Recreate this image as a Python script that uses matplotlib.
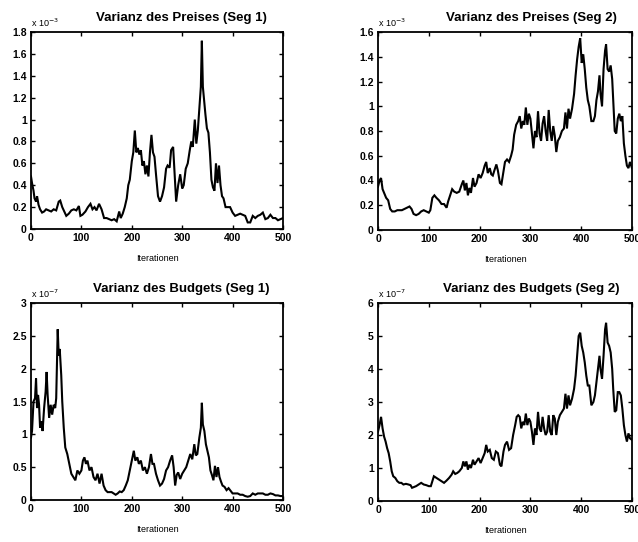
import matplotlib
matplotlib.use("Agg")
import matplotlib.pyplot as plt
from matplotlib.ticker import FuncFormatter, MultipleLocator

plt.rcParams['font.family'] = ['Liberation Sans', 'DejaVu Sans']

# ---- data (values in units of the axis multiplier) ----
titles = ["Varianz des Preises (Seg 1)", "Varianz des Preises (Seg 2)",
          "Varianz des Budgets (Seg 1)", "Varianz des Budgets (Seg 2)"]
exponents = [-3, -3, -7, -7]
xlabel = "Iterationen"

preis1_x = [0, 2, 5, 7, 10, 12, 15, 18, 22, 26, 30, 35, 40, 45, 50, 55, 58, 62, 66, 70, 75, 80, 85, 90, 95, 98,
            102, 108, 113, 118, 122, 126, 130, 135, 140, 145, 150, 155, 160, 165, 170, 175, 178, 182, 186, 190,
            193, 196, 200, 203, 206, 209, 212, 215, 218, 221, 224, 227, 230, 233, 236, 239, 242, 245, 248, 252,
            256, 260, 264, 268, 271, 275, 278, 282, 285, 288, 292, 296, 300, 303, 307, 311, 315, 318, 321, 325,
            328, 331, 334, 337, 339, 341, 343, 346, 349, 352, 355, 358, 361, 364, 367, 370, 373, 376, 379, 382,
            386, 390, 395, 400, 405, 410, 415, 420, 425, 430, 435, 440, 445, 450, 455, 460, 465, 470, 475, 480,
            485, 490, 495, 500]
preis1_y = [0.48, 0.42, 0.35, 0.28, 0.25, 0.30, 0.22, 0.18, 0.15, 0.16, 0.18, 0.17, 0.16, 0.18, 0.17, 0.25, 0.26,
            0.20, 0.16, 0.12, 0.14, 0.17, 0.18, 0.17, 0.21, 0.12, 0.13, 0.16, 0.20, 0.23, 0.18, 0.20, 0.17, 0.23,
            0.18, 0.10, 0.10, 0.09, 0.08, 0.09, 0.07, 0.16, 0.10, 0.14, 0.20, 0.28, 0.40, 0.45, 0.62, 0.70, 0.90,
            0.70, 0.74, 0.68, 0.72, 0.58, 0.62, 0.50, 0.58, 0.48, 0.70, 0.86, 0.70, 0.66, 0.50, 0.30, 0.25, 0.30,
            0.38, 0.55, 0.58, 0.56, 0.72, 0.75, 0.50, 0.25, 0.40, 0.50, 0.37, 0.40, 0.55, 0.60, 0.72, 0.80, 0.75,
            1.00, 0.78, 0.90, 1.10, 1.30, 1.72, 1.30, 1.20, 1.05, 0.92, 0.88, 0.70, 0.45, 0.38, 0.35, 0.60, 0.42,
            0.58, 0.40, 0.30, 0.28, 0.20, 0.20, 0.20, 0.15, 0.12, 0.13, 0.14, 0.13, 0.12, 0.06, 0.06, 0.12, 0.10,
            0.12, 0.13, 0.15, 0.09, 0.10, 0.13, 0.10, 0.10, 0.08, 0.09, 0.10]

preis2_x = [0, 3, 6, 9, 12, 16, 20, 24, 28, 33, 38, 42, 47, 52, 57, 62, 66, 70, 75, 80, 85, 90, 95, 100, 103, 107,
            111, 115, 120, 125, 130, 135, 138, 142, 146, 150, 155, 160, 165, 168, 171, 174, 177, 180, 183, 187,
            190, 194, 198, 202, 206, 210, 213, 216, 220, 223, 226, 229, 233, 236, 240, 243, 247, 250, 254, 258,
            262, 265, 268, 272, 276, 279, 282, 285, 288, 291, 294, 297, 300, 303, 306, 309, 312, 315, 318, 321,
            324, 327, 330, 333, 336, 339, 342, 345, 348, 351, 354, 358, 362, 366, 369, 372, 375, 378, 382, 386,
            389, 392, 395, 398, 401, 404, 407, 410, 413, 416, 420, 424, 427, 430, 433, 436, 438, 441, 444, 447,
            449, 452, 455, 458, 461, 463, 466, 469, 472, 475, 478, 481, 484, 487, 490, 493, 496, 500]
preis2_y = [0.35, 0.40, 0.42, 0.33, 0.30, 0.26, 0.24, 0.17, 0.15, 0.15, 0.16, 0.16, 0.16, 0.17, 0.18, 0.19, 0.17,
            0.13, 0.12, 0.13, 0.15, 0.16, 0.15, 0.14, 0.16, 0.26, 0.28, 0.26, 0.24, 0.21, 0.21, 0.18, 0.23, 0.28,
            0.33, 0.31, 0.30, 0.31, 0.37, 0.40, 0.32, 0.38, 0.28, 0.34, 0.30, 0.42, 0.35, 0.38, 0.45, 0.42, 0.46,
            0.52, 0.55, 0.46, 0.50, 0.45, 0.44, 0.48, 0.53, 0.48, 0.38, 0.37, 0.47, 0.55, 0.57, 0.55, 0.60, 0.65,
            0.77, 0.85, 0.88, 0.92, 0.82, 0.88, 0.85, 0.99, 0.85, 0.94, 0.90, 0.78, 0.66, 0.80, 0.75, 0.96, 0.78,
            0.72, 0.86, 0.92, 0.80, 0.72, 0.97, 0.80, 0.72, 0.84, 0.76, 0.63, 0.72, 0.75, 0.80, 0.82, 0.95, 0.82,
            0.98, 0.90, 0.98, 1.10, 1.25, 1.38, 1.48, 1.55, 1.35, 1.42, 1.30, 1.15, 1.05, 1.00, 0.88, 0.88, 0.92,
            1.05, 1.12, 1.25, 1.10, 1.00, 1.30, 1.45, 1.50, 1.30, 1.28, 1.33, 1.22, 1.05, 0.80, 0.78, 0.90, 0.94,
            0.88, 0.92, 0.70, 0.60, 0.52, 0.50, 0.55, 0.50]

budget1_x = [0, 2, 5, 8, 10, 12, 14, 16, 18, 21, 23, 26, 29, 31, 33, 36, 39, 42, 45, 48, 50, 53, 55, 57, 60, 62,
             65, 68, 72, 76, 80, 84, 88, 92, 96, 100, 103, 106, 109, 112, 116, 120, 124, 128, 132, 136, 140, 144,
             148, 152, 156, 160, 164, 168, 172, 176, 180, 184, 188, 192, 196, 200, 204, 207, 211, 214, 218, 222,
             226, 230, 234, 238, 241, 244, 248, 252, 256, 260, 264, 268, 272, 276, 280, 283, 286, 289, 292, 296,
             300, 304, 308, 312, 316, 320, 324, 327, 330, 334, 337, 339, 341, 344, 347, 350, 353, 356, 359, 362,
             365, 368, 371, 374, 377, 380, 384, 388, 392, 396, 400, 405, 410, 415, 420, 425, 430, 435, 440, 445,
             450, 455, 460, 465, 470, 475, 480, 485, 490, 495, 500]
budget1_y = [0.95, 1.05, 1.50, 1.55, 1.85, 1.40, 1.60, 1.45, 1.10, 1.20, 1.05, 1.40, 1.65, 1.95, 1.60, 1.25, 1.45,
             1.30, 1.45, 1.40, 1.55, 2.60, 2.20, 2.30, 1.90, 1.50, 1.10, 0.80, 0.70, 0.55, 0.40, 0.35, 0.30, 0.45,
             0.40, 0.45, 0.60, 0.65, 0.55, 0.60, 0.45, 0.50, 0.35, 0.30, 0.40, 0.25, 0.40, 0.22, 0.15, 0.12, 0.12,
             0.12, 0.10, 0.08, 0.10, 0.13, 0.12, 0.15, 0.22, 0.30, 0.45, 0.60, 0.75, 0.60, 0.65, 0.55, 0.60, 0.45,
             0.50, 0.40, 0.50, 0.70, 0.55, 0.55, 0.40, 0.30, 0.22, 0.25, 0.32, 0.45, 0.50, 0.60, 0.68, 0.50, 0.22,
             0.38, 0.42, 0.32, 0.40, 0.45, 0.50, 0.60, 0.70, 0.62, 0.85, 0.68, 0.70, 0.95, 1.10, 1.48, 1.15, 1.05,
             0.85, 0.75, 0.65, 0.45, 0.38, 0.30, 0.52, 0.35, 0.50, 0.35, 0.28, 0.22, 0.20, 0.15, 0.18, 0.14, 0.10,
             0.10, 0.10, 0.08, 0.08, 0.06, 0.05, 0.06, 0.10, 0.08, 0.10, 0.10, 0.10, 0.08, 0.08, 0.10, 0.09, 0.07,
             0.07, 0.06, 0.06]

budget2_x = [0, 3, 6, 9, 12, 15, 18, 21, 24, 27, 30, 34, 38, 42, 46, 50, 55, 60, 64, 67, 70, 75, 80, 85, 90, 95,
             100, 104, 107, 110, 115, 120, 125, 130, 135, 140, 145, 148, 152, 156, 160, 165, 168, 171, 174, 177,
             180, 183, 187, 190, 194, 198, 202, 206, 210, 213, 216, 220, 224, 228, 232, 236, 240, 243, 247, 250,
             254, 258, 262, 266, 270, 273, 276, 279, 282, 285, 288, 291, 294, 297, 300, 303, 306, 309, 312, 315,
             318, 321, 324, 327, 330, 333, 336, 339, 342, 345, 348, 351, 354, 358, 362, 366, 369, 372, 375, 378,
             382, 386, 389, 392, 395, 398, 401, 404, 407, 410, 413, 416, 420, 424, 427, 430, 433, 436, 438, 441,
             444, 447, 449, 452, 455, 458, 461, 463, 466, 469, 472, 475, 478, 481, 484, 487, 490, 493, 496, 500]
budget2_y = [2.10, 2.30, 2.55, 2.20, 1.95, 1.80, 1.60, 1.45, 1.20, 0.90, 0.75, 0.70, 0.60, 0.55, 0.55, 0.50, 0.52,
             0.50, 0.48, 0.40, 0.42, 0.45, 0.50, 0.55, 0.50, 0.48, 0.45, 0.45, 0.60, 0.75, 0.70, 0.65, 0.60, 0.55,
             0.62, 0.70, 0.80, 0.90, 0.82, 0.85, 0.90, 1.00, 1.20, 1.05, 1.20, 0.95, 1.10, 1.00, 1.25, 1.10, 1.20,
             1.30, 1.15, 1.30, 1.45, 1.70, 1.50, 1.55, 1.30, 1.25, 1.50, 1.45, 1.10, 1.05, 1.50, 1.70, 1.80, 1.55,
             1.60, 2.00, 2.30, 2.55, 2.60, 2.55, 2.20, 2.40, 2.30, 2.65, 2.30, 2.50, 2.40, 2.10, 1.70, 2.20, 2.00,
             2.70, 2.20, 2.10, 2.55, 2.20, 2.00, 2.10, 2.60, 2.10, 2.00, 2.60, 2.50, 2.00, 2.40, 2.60, 2.70, 2.80,
             3.25, 2.80, 3.20, 2.90, 3.10, 3.40, 3.80, 4.40, 5.00, 5.10, 4.70, 4.50, 4.20, 3.80, 3.50, 3.50, 2.90,
             3.00, 3.20, 3.60, 4.00, 4.40, 4.00, 3.70, 4.40, 5.20, 5.40, 4.80, 4.70, 4.50, 4.00, 3.40, 2.70, 2.75,
             3.30, 3.30, 3.20, 2.80, 2.30, 2.00, 1.80, 2.05, 1.90, 1.85]

series_x = [preis1_x, preis2_x, budget1_x, budget2_x]
series_y = [preis1_y, preis2_y, budget1_y, budget2_y]
y_limits = [1.8, 1.6, 3.0, 6.0]
y_steps = [0.2, 0.2, 0.5, 1.0]
x_ticks = [0, 100, 200, 300, 400, 500]

W, H = 638, 542
fig = plt.figure(figsize=(W / 100, H / 100), dpi=100)

# axes boxes in pixels: left, top, right, bottom
boxes = [(31, 32, 283, 229), (378, 32, 632, 230), (31, 303, 283, 500), (378, 303, 632, 501)]
title_cx = [181, 531, 181, 531]

fmt = FuncFormatter(lambda v, p: ("%g" % round(v, 6)))

for i in range(4):
    l, t, r, b = boxes[i]
    ax = fig.add_axes([l / W, 1 - b / H, (r - l) / W, (b - t) / H])
    ax.plot(series_x[i], series_y[i], color='black', lw=1.5, solid_joinstyle='miter')
    ax.set_xlim(0, 500)
    ax.set_ylim(0, y_limits[i])
    ax.set_xticks(x_ticks)
    ax.yaxis.set_major_locator(MultipleLocator(y_steps[i]))
    ax.yaxis.set_major_formatter(fmt)
    ax.tick_params(direction='in', length=3, width=1, top=True, right=True,
                   labelsize=7.5, pad=3)
    for lab in ax.get_xticklabels() + ax.get_yticklabels():
        lab.set_fontweight('bold')
    for s in ax.spines.values():
        s.set_linewidth(1.3)
    ax.text((title_cx[i] - l) / (r - l), 1 + 14 / (b - t), titles[i], transform=ax.transAxes,
            ha='center', va='center', fontsize=9.5, fontweight='bold')
    ax.text(0, 1 + 3 / (b - t), r"x 10$^{%d}$" % exponents[i], transform=ax.transAxes,
            ha='left', va='bottom', fontsize=6.5)
    ax.set_xlabel(xlabel, fontsize=6.5, labelpad=8)

fig.savefig("out.png", dpi=100)
